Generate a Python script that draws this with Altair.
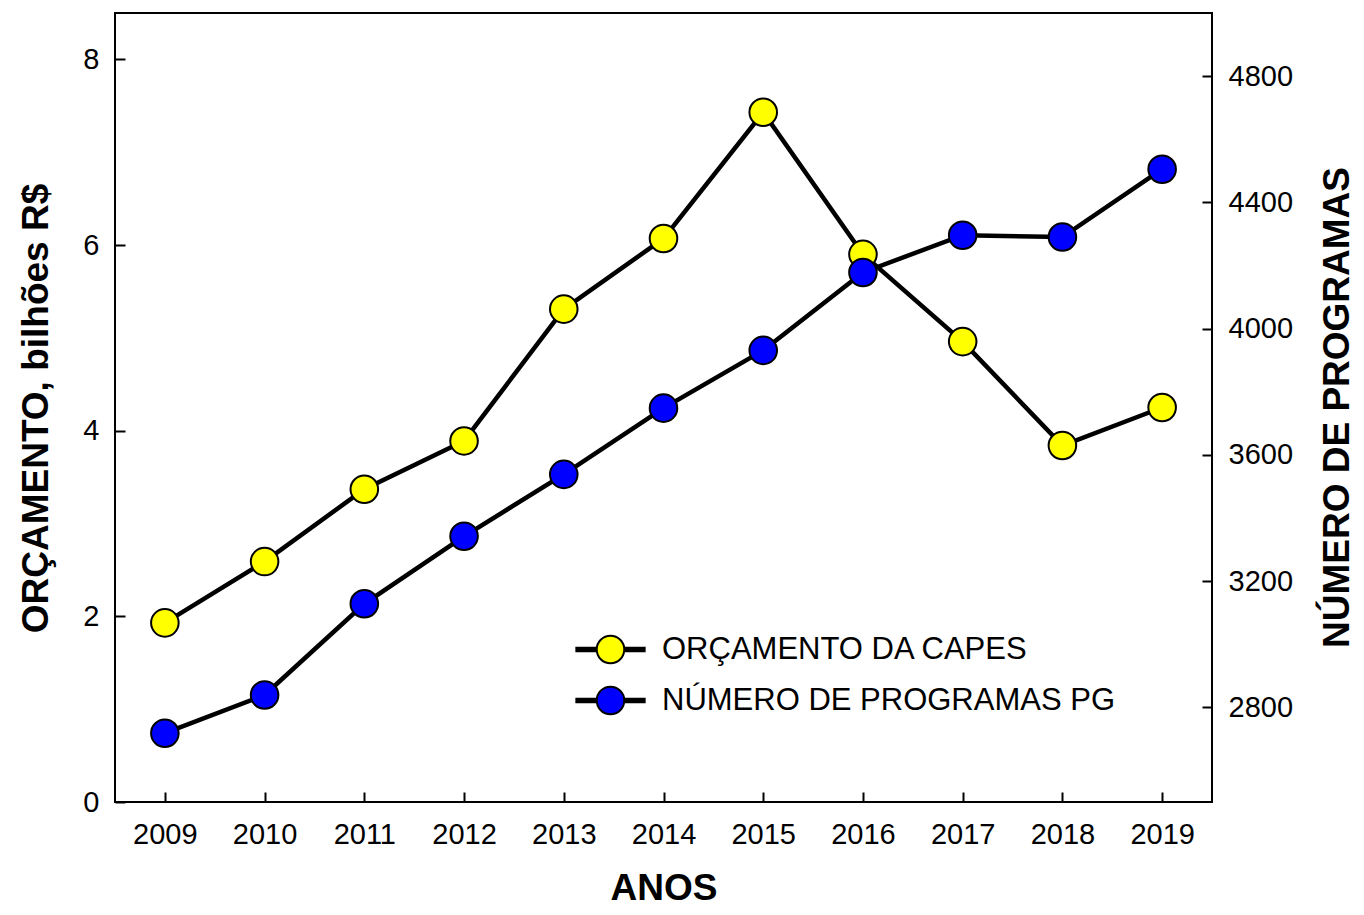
import altair as alt
import pandas as pd

anos = [2009, 2010, 2011, 2012, 2013, 2014, 2015, 2016, 2017, 2018, 2019]
orcamento = [1.93, 2.59, 3.37, 3.89, 5.31, 6.07, 7.43, 5.90, 4.96, 3.84, 4.25]
programas = [2718, 2839, 3128, 3342, 3538, 3748, 3931, 4178, 4296, 4290, 4505]
series = ["ORÇAMENTO DA CAPES", "NÚMERO DE PROGRAMAS PG"]
cores = ["#ffff00", "#0000ff"]
ticks_esq = [0, 2, 4, 6, 8]
ticks_dir = [2800, 3200, 3600, 4000, 4400, 4800]

df_orc = pd.DataFrame({"ano": anos, "valor": orcamento, "serie": series[0]})
df_prog = pd.DataFrame({"ano": anos, "valor": programas, "serie": series[1]})

FONT = "Liberation Sans"
W, H = 1097, 789

x_enc = alt.X(
    "ano:Q",
    scale=alt.Scale(domain=[2008.5, 2019.5], nice=False, zero=False),
    axis=alt.Axis(
        values=anos, format="d", title="ANOS", grid=False, domain=False,
        tickSize={"expr": "-10"}, tickWidth=2, tickColor="black",
        labelPadding=28, labelFontSize=29, labelFont=FONT, labelColor="black",
        titleFont=FONT, titleFontSize=37, titleFontWeight="bold", titleColor="black",
        titleX=W / 2, titleY=97, titleBaseline="alphabetic", titleAlign="center",
    ),
)

legend_path = ("M-2.55,-0.13H-1M-2.55,0H-1M-2.55,0.13H-1"
               "M1,-0.13H2.55M1,0H2.55M1,0.13H2.55"
               "M-1,0A1,1,0,1,1,1,0A1,1,0,1,1,-1,0Z")

fill_enc = alt.Fill(
    "serie:N",
    scale=alt.Scale(domain=series, range=cores),
    legend=alt.Legend(
        title=None, orient="none", legendX=480, legendY=621, direction="vertical",
        symbolType=legend_path, symbolSize=760, symbolStrokeColor="black",
        symbolStrokeWidth=2, symbolOpacity=1,
        labelFontSize=31, labelFont=FONT, labelColor="black", labelOffset=36,
        labelLimit=700, rowPadding=14, padding=0,
    ),
)

y_esq = alt.Y(
    "valor:Q",
    scale=alt.Scale(domain=[0, 8.5], nice=False, zero=False),
    axis=alt.Axis(
        orient="left", values=ticks_esq, format="d", title="ORÇAMENTO, bilhões R$",
        grid=False, domain=False,
        tickSize={"expr": "-10"}, tickWidth=2, tickColor="black",
        labelPadding=26, labelFontSize=29, labelFont=FONT, labelColor="black",
        titleFont=FONT, titleFontSize=37, titleFontWeight="bold", titleColor="black",
        titleAngle=270, titleX=-68, titleY=395, titleBaseline="alphabetic",
        titleAlign="center",
    ),
)

y_dir = alt.Y(
    "valor:Q",
    scale=alt.Scale(domain=[2500, 5000], nice=False, zero=False),
    axis=alt.Axis(
        orient="right", values=ticks_dir, format="d", title="NÚMERO DE PROGRAMAS",
        grid=False, domain=False,
        tickSize={"expr": "-10"}, tickWidth=2, tickColor="black",
        labelPadding=26, labelFontSize=29, labelFont=FONT, labelColor="black",
        titleFont=FONT, titleFontSize=37, titleFontWeight="bold", titleColor="black",
        titleAngle=270, titleX=136, titleY=394, titleBaseline="alphabetic",
        titleAlign="center",
    ),
)

base_orc = alt.Chart(df_orc)
base_prog = alt.Chart(df_prog)

linha_orc = base_orc.mark_line(color="black", strokeWidth=4.5).encode(x=x_enc, y=y_esq)
pts_orc = base_orc.mark_point(filled=True, size=760, stroke="black", strokeWidth=2, opacity=1).encode(
    x=x_enc, y=y_esq, fill=fill_enc)

linha_prog = base_prog.mark_line(color="black", strokeWidth=4.5).encode(x=x_enc, y=y_dir)
pts_prog = base_prog.mark_point(filled=True, size=760, stroke="black", strokeWidth=2, opacity=1).encode(
    x=x_enc, y=y_dir, fill=fill_enc)

camada_orc = alt.layer(linha_orc, pts_orc)
camada_prog = alt.layer(linha_prog, pts_prog)

chart = (
    alt.layer(camada_orc, camada_prog)
    .resolve_scale(y="independent")
    .properties(
        width=W, height=H,
        padding={"left": 107, "top": 5, "right": 144, "bottom": 105},
        autosize=alt.AutoSizeParams(type="none"),
        background="white",
    )
    .configure_view(stroke="black", strokeWidth=2)
)

chart.save("out.html", embed_options={"renderer": "svg", "actions": False})
